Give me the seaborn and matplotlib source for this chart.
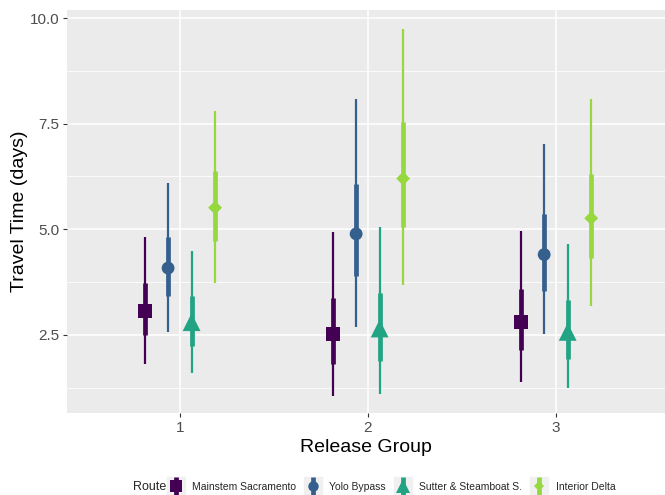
import numpy as np
import pandas as pd
import seaborn as sns
import matplotlib
matplotlib.use("Agg")
import matplotlib.pyplot as plt
from matplotlib.lines import Line2D
from matplotlib.legend_handler import HandlerTuple

# ---- data ----
groups = [1, 2, 3]
routes = ["Mainstem Sacramento", "Yolo Bypass", "Sutter & Steamboat S.", "Interior Delta"]
colors = ["#440154", "#355F8D", "#22A384", "#97D83F"]

median_mainstem = [3.06, 2.51, 2.81]
median_yolo = [4.08, 4.89, 4.40]
median_sutter = [2.80, 2.65, 2.57]
median_interior = [5.51, 6.20, 5.26]

lo50_mainstem = [2.50, 1.82, 2.14]
hi50_mainstem = [3.72, 3.36, 3.58]
lo50_yolo = [3.42, 3.89, 3.54]
hi50_yolo = [4.82, 6.07, 5.36]
lo50_sutter = [2.24, 1.89, 1.93]
hi50_sutter = [3.42, 3.48, 3.32]
lo50_interior = [4.73, 5.06, 4.33]
hi50_interior = [6.38, 7.53, 6.31]

lo95_mainstem = [1.80, 1.05, 1.39]
hi95_mainstem = [4.82, 4.93, 4.96]
lo95_yolo = [2.57, 2.69, 2.53]
hi95_yolo = [6.09, 8.08, 7.01]
lo95_sutter = [1.59, 1.11, 1.23]
hi95_sutter = [4.48, 5.06, 4.65]
lo95_interior = [3.72, 3.67, 3.19]
hi95_interior = [7.80, 9.74, 8.08]

medians = [median_mainstem, median_yolo, median_sutter, median_interior]
lo50 = [lo50_mainstem, lo50_yolo, lo50_sutter, lo50_interior]
hi50 = [hi50_mainstem, hi50_yolo, hi50_sutter, hi50_interior]
lo95 = [lo95_mainstem, lo95_yolo, lo95_sutter, lo95_interior]
hi95 = [hi95_mainstem, hi95_yolo, hi95_sutter, hi95_interior]

rows = []
for ri, r in enumerate(routes):
    for gi, g in enumerate(groups):
        rows.append(dict(route=r, group=g, xpos=g + (ri - 1.5) * 0.125,
                         median=medians[ri][gi], lo50=lo50[ri][gi], hi50=hi50[ri][gi],
                         lo95=lo95[ri][gi], hi95=hi95[ri][gi]))
df = pd.DataFrame(rows)

# ---- style ----
sns.set_theme(style="darkgrid")
plt.rcParams["font.family"] = ["Liberation Sans", "DejaVu Sans"]

fig = plt.figure(figsize=(6.65, 4.95), dpi=100)
ax = fig.add_axes([67 / 665, 1 - 413 / 495, 1 - 67 / 665, (413 - 10) / 495])
ax.set_facecolor("#EBEBEB")

palette = dict(zip(routes, colors))
markers = dict(zip(routes, ["s", "o", "^", "D"]))
sizes = dict(zip(routes, [100, 85, 165, 50]))

for ri, r in enumerate(routes):
    sub = df[df.route == r]
    ax.vlines(sub.xpos, sub.lo95, sub.hi95, color=colors[ri], lw=1.6, zorder=3)
    ax.vlines(sub.xpos, sub.lo50, sub.hi50, color=colors[ri], lw=3.4, zorder=3)

sns.scatterplot(data=df, x="xpos", y="median", hue="route", style="route",
                size="route", sizes=sizes, markers=markers, palette=palette,
                linewidth=0, legend=False, ax=ax, zorder=4)

ax.set_xlim(0.4, 3.58)
ax.set_ylim(0.649, 10.19)
ax.set_xticks(groups)
ax.set_xticklabels([str(g) for g in groups])
ax.set_yticks([2.5, 5.0, 7.5, 10.0])
ax.set_yticklabels(["2.5", "5.0", "7.5", "10.0"])
ax.set_yticks([1.25, 3.75, 6.25, 8.75], minor=True)
ax.grid(which="major", color="white", lw=1.1)
ax.grid(which="minor", axis="y", color="white", lw=0.55)
ax.grid(which="minor", axis="x", visible=False)
ax.set_axisbelow(True)
for s in ax.spines.values():
    s.set_visible(False)
ax.tick_params(axis="both", which="major", length=3, width=0.8, color="#333333",
               labelsize=11, labelcolor="#4D4D4D", pad=2.5, direction="out",
               bottom=True, left=True)
ax.tick_params(axis="both", which="minor", length=0)
ax.set_xlabel("Release Group", fontsize=14, color="black", labelpad=3)
ax.set_ylabel("Travel Time (days)", fontsize=14, color="black", labelpad=1)

# ---- legend ----
handles = []
for ri, r in enumerate(routes):
    bg = Line2D([], [], marker="s", markersize=12.5, color="#F0F0F0", ls="")
    ln = Line2D([], [], marker="|", markersize=12.5, mew=3.4, color=colors[ri], ls="")
    mk = Line2D([], [], marker=markers[r], markersize=[8, 7.5, 10, 5.5][ri],
                color=colors[ri], mew=0, ls="")
    handles.append((bg, ln, mk))
fig.text(133 / 665, 1 - 487 / 495, "Route", fontsize=9, va="center", ha="left")
fig.legend(handles, routes, handler_map={tuple: HandlerTuple(ndivide=1, pad=0)},
           loc="center left", bbox_to_anchor=(168 / 665, 1 - 487 / 495), ncol=4,
           frameon=False, fontsize=7.5, handlelength=1.5, handleheight=1.5,
           numpoints=1, handletextpad=0.8, columnspacing=0.9, borderpad=0,
           borderaxespad=0)

fig.savefig("out.png", dpi=100)
